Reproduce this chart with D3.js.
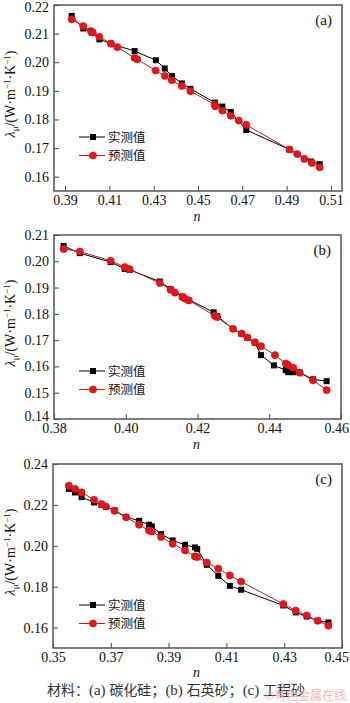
<!DOCTYPE html>
<html>
<head>
<meta charset="utf-8">
<script src="https://cdn.jsdelivr.net/npm/d3@7/dist/d3.min.js"></script>
<style>
  html, body { margin: 0; padding: 0; background: #fff; }
  svg { display: block; }
  .tick text { font-family: "Liberation Serif", "DejaVu Serif", serif; font-size: 14px; fill: #111; }
</style>
</head>
<body>
<svg id="chart" width="350" height="703"></svg>
<script>
// (a) silicon carbide
const nA_meas = [0.3930, 0.3982, 0.4020, 0.4055, 0.4107, 0.4214, 0.4310, 0.4350, 0.4382, 0.4427, 0.4466, 0.4576, 0.4610, 0.4648, 0.4718, 0.4913, 0.5011, 0.5049];
const lA_meas = [0.2162, 0.2118, 0.2104, 0.2080, 0.2065, 0.2039, 0.2007, 0.1978, 0.1952, 0.1926, 0.1907, 0.1859, 0.1845, 0.1826, 0.1763, 0.1695, 0.1653, 0.1644];
const nA_pred = [0.3930, 0.3982, 0.4016, 0.4025, 0.4055, 0.4107, 0.4136, 0.4214, 0.4226, 0.4309, 0.4350, 0.4382, 0.4427, 0.4466, 0.4576, 0.4578, 0.4610, 0.4648, 0.4684, 0.4718, 0.4913, 0.4948, 0.4980, 0.5014, 0.5049];
const lA_pred = [0.2150, 0.2126, 0.2109, 0.2104, 0.2089, 0.2065, 0.2053, 0.2015, 0.2010, 0.1971, 0.1952, 0.1937, 0.1917, 0.1899, 0.1852, 0.1846, 0.1831, 0.1813, 0.1796, 0.1781, 0.1695, 0.1679, 0.1662, 0.1648, 0.1633];

// (b) quartz sand
const nB_meas = [0.3827, 0.3872, 0.3958, 0.3997, 0.4011, 0.4095, 0.4125, 0.4158, 0.4245, 0.4255, 0.4299, 0.4323, 0.4339, 0.4360, 0.4377, 0.4413, 0.4446, 0.4453, 0.4467, 0.4485, 0.4522, 0.4560];
const lB_meas = [0.2058, 0.2031, 0.1997, 0.1971, 0.1967, 0.1923, 0.1894, 0.1866, 0.1806, 0.1791, 0.1743, 0.1724, 0.1709, 0.1690, 0.1643, 0.1604, 0.1586, 0.1578, 0.1578, 0.1577, 0.1551, 0.1544];
const nB_pred = [0.3827, 0.3872, 0.3958, 0.3997, 0.4011, 0.4095, 0.4125, 0.4137, 0.4158, 0.4165, 0.4176, 0.4248, 0.4255, 0.4299, 0.4323, 0.4339, 0.4360, 0.4377, 0.4416, 0.4446, 0.4453, 0.4467, 0.4485, 0.4522, 0.4560];
const lB_pred = [0.2047, 0.2037, 0.2002, 0.1978, 0.1970, 0.1917, 0.1892, 0.1881, 0.1864, 0.1858, 0.1851, 0.1793, 0.1787, 0.1743, 0.1725, 0.1710, 0.1692, 0.1677, 0.1643, 0.1611, 0.1605, 0.1595, 0.1576, 0.1547, 0.1510];

// (c) engineering sand
const nC_meas = [0.3555, 0.3576, 0.3599, 0.3642, 0.3668, 0.3683, 0.3713, 0.3753, 0.3798, 0.3832, 0.3842, 0.3874, 0.3914, 0.3957, 0.3991, 0.3999, 0.4032, 0.4072, 0.4112, 0.4151, 0.4297, 0.4340, 0.4378, 0.4416, 0.4453];
const lC_meas = [0.2278, 0.2261, 0.2238, 0.2212, 0.2200, 0.2190, 0.2173, 0.2141, 0.2122, 0.2103, 0.2095, 0.2057, 0.2026, 0.2005, 0.1992, 0.1985, 0.1907, 0.1853, 0.1804, 0.1785, 0.1708, 0.1674, 0.1654, 0.1633, 0.1625];
const nC_pred = [0.3555, 0.3576, 0.3599, 0.3642, 0.3668, 0.3683, 0.3713, 0.3753, 0.3798, 0.3832, 0.3842, 0.3874, 0.3914, 0.3957, 0.3991, 0.3999, 0.4032, 0.4072, 0.4112, 0.4151, 0.4297, 0.4340, 0.4378, 0.4416, 0.4453];
const lC_pred = [0.2294, 0.2278, 0.2261, 0.2225, 0.2204, 0.2192, 0.2171, 0.2139, 0.2103, 0.2075, 0.2070, 0.2043, 0.2010, 0.1977, 0.1948, 0.1945, 0.1918, 0.1888, 0.1855, 0.1825, 0.1715, 0.1683, 0.1659, 0.1633, 0.1609];

// axis ticks
const xTicksA = [0.39, 0.41, 0.43, 0.45, 0.47, 0.49, 0.51];
const yTicksA = [0.16, 0.17, 0.18, 0.19, 0.20, 0.21, 0.22];
const xTicksB = [0.38, 0.40, 0.42, 0.44, 0.46];
const yTicksB = [0.14, 0.15, 0.16, 0.17, 0.18, 0.19, 0.20, 0.21];
const xTicksC = [0.35, 0.37, 0.39, 0.41, 0.43, 0.45];
const yTicksC = [0.16, 0.18, 0.20, 0.22, 0.24];

const seriesNames = ["实测值", "预测值"];
const panelTags = ["(a)", "(b)", "(c)"];
// caption pieces: [text, isLatin]
const captionParts = [["材料：", false], ["(a) ", true], ["碳化硅；", false], ["(b) ", true], ["石英砂；", false], ["(c) ", true], ["工程砂", false]];
const watermark = "©有色金属在线";

const svg = d3.select("#chart");
const serif = '"Liberation Serif", "DejaVu Serif", serif';
const cjk = '"Noto Sans CJK SC", sans-serif';
const BLACK = "#000";
const RED_FILL = "#e3161c";
const RED_LINE = "#b81c1c";
const fmt = d3.format(".2f");
const W = 350;

const panels = [
  { x0: 54, x1: 342, y0: 5, y1: 191, xd: [0.385, 0.515], yd: [0.155, 0.22], xt: xTicksA, yt: yTicksA,
    meas: [nA_meas, lA_meas], pred: [nA_pred, lA_pred], tag: panelTags[0], legY: 137, nGap: 30 },
  { x0: 54, x1: 341, y0: 235, y1: 419, xd: [0.38, 0.46], yd: [0.14, 0.21], xt: xTicksB, yt: yTicksB,
    meas: [nB_meas, lB_meas], pred: [nB_pred, lB_pred], tag: panelTags[1], legY: 371, nGap: 30 },
  { x0: 53, x1: 342, y0: 464, y1: 648, xd: [0.35, 0.45], yd: [0.15, 0.24], xt: xTicksC, yt: yTicksC,
    meas: [nC_meas, lC_meas], pred: [nC_pred, lC_pred], tag: panelTags[2], legY: 605, nGap: 29 }
];

function square(g, x, y, s, fill) {
  g.append("rect").attr("x", x - s / 2).attr("y", y - s / 2).attr("width", s).attr("height", s).attr("fill", fill);
}

panels.forEach(p => {
  const x = d3.scaleLinear().domain(p.xd).range([p.x0, p.x1]);
  const y = d3.scaleLinear().domain(p.yd).range([p.y1, p.y0]);
  const g = svg.append("g");

  // axes with inward ticks
  const ax = g.append("g").attr("transform", `translate(0,${p.y1})`)
    .call(d3.axisBottom(x).tickValues(p.xt).tickFormat(fmt).tickSizeInner(-5).tickSizeOuter(0).tickPadding(4));
  const ay = g.append("g").attr("transform", `translate(${p.x0},0)`)
    .call(d3.axisLeft(y).tickValues(p.yt).tickFormat(fmt).tickSizeInner(-5).tickSizeOuter(0).tickPadding(5));
  [ax, ay].forEach(a => {
    a.select(".domain").remove();
    a.selectAll(".tick line").attr("stroke", "#444").attr("stroke-width", 1);
  });
  // keep edge labels inside the page and clear of each other
  ax.selectAll(".tick text").each(function () {
    const b = this.getBBox();
    const t = d3.select(this.parentNode).attr("transform");
    const tx = +t.match(/translate\(([-\d.]+)/)[1];
    const over = tx + b.x + b.width - (W - 1);
    if (over > 0) d3.select(this).attr("dx", -over);
  });
  ay.selectAll(".tick text").each(function () {
    const t = d3.select(this.parentNode).attr("transform");
    const ty = +t.match(/translate\([-\d.]+,([-\d.]+)/)[1];
    if (ty < 8) d3.select(this).attr("y", 8 - ty);
    if (p.y1 - ty < 4) d3.select(this).attr("y", -3);
  });

  // frame
  g.append("rect").attr("x", p.x0).attr("y", p.y0).attr("width", p.x1 - p.x0).attr("height", p.y1 - p.y0)
    .attr("fill", "none").attr("stroke", "#555").attr("stroke-width", 1.5);

  const line = d3.line().x(d => x(d[0])).y(d => y(d[1]));
  const meas = p.meas[0].map((v, i) => [v, p.meas[1][i]]);
  const pred = p.pred[0].map((v, i) => [v, p.pred[1][i]]);

  // measured
  g.append("path").datum(meas).attr("d", line).attr("fill", "none").attr("stroke", BLACK).attr("stroke-width", 1);
  meas.forEach(d => square(g, x(d[0]), y(d[1]), 6, BLACK));

  // predicted
  g.append("path").datum(pred).attr("d", line).attr("fill", "none").attr("stroke", RED_LINE).attr("stroke-width", 1);
  g.selectAll("circle.pred").data(pred).enter().append("circle")
    .attr("cx", d => x(d[0])).attr("cy", d => y(d[1])).attr("r", 3.6)
    .attr("fill", RED_FILL).attr("stroke", "#c8141a").attr("stroke-width", 0.6);

  // panel tag
  g.append("text").attr("x", p.x1 - 10).attr("y", p.y0 + 20).attr("text-anchor", "end")
    .attr("font-family", serif).attr("font-size", 15).attr("fill", "#111").text(p.tag);

  // legend
  const lx0 = 79, lx1 = 105, lxm = 93;
  g.append("line").attr("x1", lx0).attr("x2", lx1).attr("y1", p.legY).attr("y2", p.legY).attr("stroke", BLACK).attr("stroke-width", 1);
  square(g, lxm, p.legY, 6, BLACK);
  g.append("text").attr("x", 108).attr("y", p.legY + 4.5).attr("font-family", cjk).attr("font-size", 12.5).attr("fill", "#111").text(seriesNames[0]);
  const ly2 = p.legY + 18.5;
  g.append("line").attr("x1", lx0).attr("x2", lx1).attr("y1", ly2).attr("y2", ly2).attr("stroke", RED_LINE).attr("stroke-width", 1);
  g.append("circle").attr("cx", lxm).attr("cy", ly2).attr("r", 3.6).attr("fill", RED_FILL).attr("stroke", "#c8141a").attr("stroke-width", 0.6);
  g.append("text").attr("x", 108).attr("y", ly2 + 4.5).attr("font-family", cjk).attr("font-size", 12.5).attr("fill", "#111").text(seriesNames[1]);

  // axis titles
  g.append("text").attr("x", (p.x0 + p.x1) / 2 - 1).attr("y", p.y1 + p.nGap).attr("text-anchor", "middle")
    .attr("font-family", serif).attr("font-size", 14).attr("font-style", "italic").attr("fill", "#111").text("n");

  const yl = g.append("text").attr("transform", `translate(15,${(p.y0 + p.y1) / 2 - 4}) rotate(-90)`)
    .attr("text-anchor", "middle").attr("font-family", serif).attr("font-size", 14).attr("fill", "#111");
  yl.append("tspan").attr("font-style", "italic").text("λ");
  yl.append("tspan").attr("font-size", 9).attr("dy", 3).text("μ");
  yl.append("tspan").attr("dy", -3).text("/(W·m");
  yl.append("tspan").attr("font-size", 9).attr("dy", -5).text("−1");
  yl.append("tspan").attr("dy", 5).text("·K");
  yl.append("tspan").attr("font-size", 9).attr("dy", -5).text("−1");
  yl.append("tspan").attr("dy", 5).text(")");
});

// caption (CJK text with serif Latin parts) and watermark
const cap = svg.append("text").attr("x", 176).attr("y", 695).attr("text-anchor", "middle")
  .attr("font-size", 14).attr("fill", "#333");
captionParts.forEach(([t, latin]) => {
  cap.append("tspan").attr("font-family", latin ? serif : cjk).attr("font-size", latin ? 15 : 14).text(t);
});
svg.append("text").attr("x", 346).attr("y", 700).attr("text-anchor", "end")
  .attr("font-family", cjk).attr("font-size", 12).attr("fill", "#f2a6a6").attr("opacity", 0.8).text(watermark);
</script>
</body>
</html>
